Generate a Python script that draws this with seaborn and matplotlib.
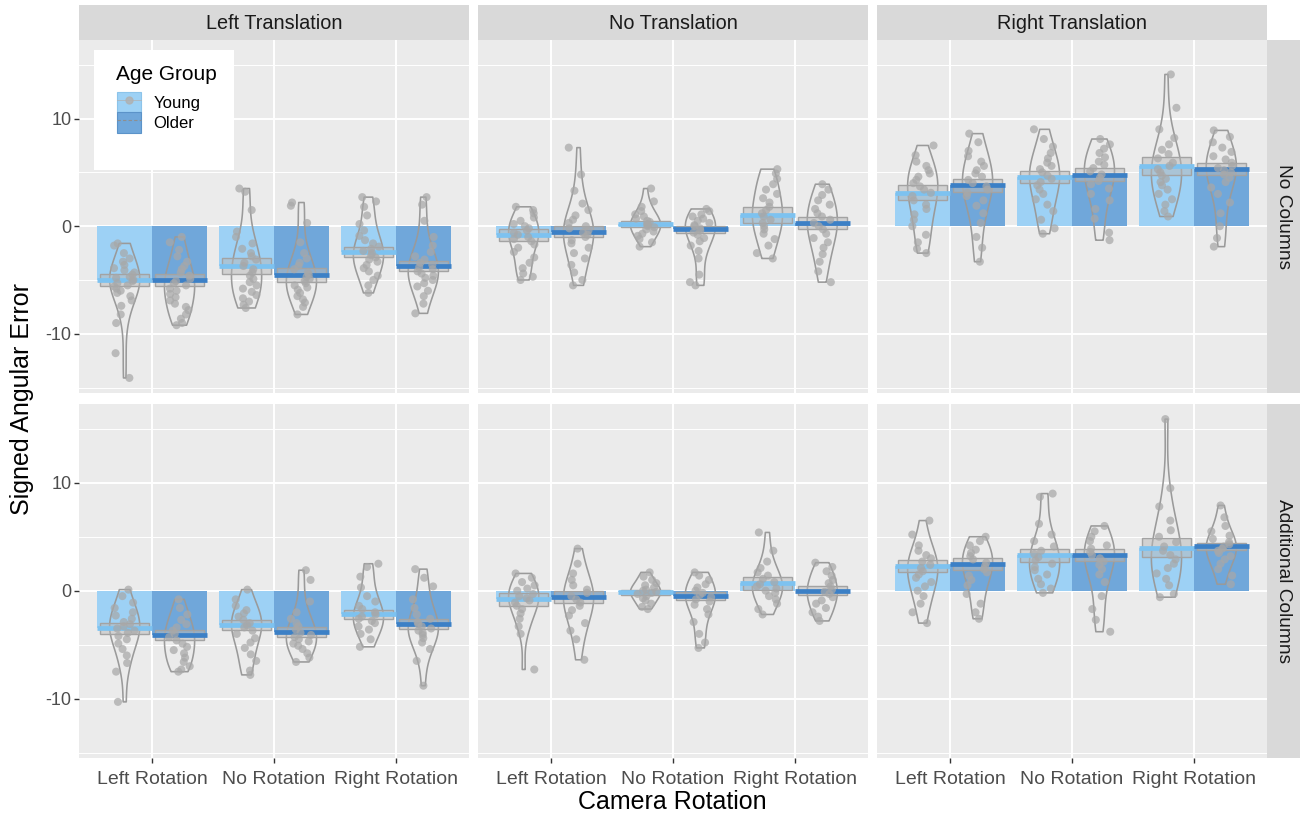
import numpy as np
import pandas as pd
import matplotlib
matplotlib.use("Agg")
import matplotlib.pyplot as plt
import seaborn as sns
from matplotlib.patches import Patch, Rectangle
from matplotlib.lines import Line2D
from matplotlib.legend_handler import HandlerTuple

plt.rcParams["font.family"] = ["Liberation Sans", "DejaVu Sans"]

rotations = ["Left Rotation", "No Rotation", "Right Rotation"]
translations = ["Left Translation", "No Translation", "Right Translation"]
conditions = ["No Columns", "Additional Columns"]
ages = ["Young", "Older"]

# Per-participant signed angular error; each list holds [left rot, no rot, right rot]
nocol_left_young = [
    [-1.6, -1.8, -2.5, -3.0, -3.3, -3.6, -3.9, -4.1, -4.3, -4.5, -4.7, -4.8, -5.0, -5.1,
     -5.3, -5.5, -5.6, -5.8, -6.0, -6.2, -6.5, -6.9, -7.4, -8.2, -9.0, -11.8, -14.1],
    [3.5, 3.2, 1.5, -0.5, -1.0, -1.6, -2.1, -2.5, -2.8, -3.1, -3.4, -3.7, -4.0, -4.3,
     -4.6, -4.9, -5.2, -5.5, -5.8, -6.1, -6.4, -6.7, -7.0, -7.3, -7.6],
    [2.7, 2.3, 1.8, 1.0, 0.2, -0.4, -0.9, -1.3, -1.6, -1.9, -2.1, -2.3, -2.5, -2.7,
     -2.9, -3.1, -3.3, -3.6, -3.9, -4.2, -4.6, -5.0, -5.5, -6.2],
]
nocol_left_older = [
    [-1.0, -1.5, -2.2, -2.8, -3.3, -3.7, -4.0, -4.3, -4.6, -4.9, -5.1, -5.3, -5.5, -5.8,
     -6.0, -6.3, -6.6, -6.9, -7.2, -7.5, -7.8, -8.2, -8.6, -9.0, -9.2],
    [2.2, 1.9, 0.3, -1.5, -2.5, -3.0, -3.4, -3.7, -4.0, -4.3, -4.5, -4.7, -4.9, -5.1,
     -5.3, -5.5, -5.7, -5.9, -6.2, -6.5, -6.8, -7.1, -7.5, -8.2],
    [2.7, 2.0, 0.5, -1.0, -1.8, -2.4, -2.8, -3.1, -3.4, -3.6, -3.8, -4.0, -4.2, -4.4,
     -4.6, -4.8, -5.0, -5.3, -5.6, -6.0, -6.5, -7.2, -8.1],
]
nocol_none_young = [
    [1.8, 1.5, 1.2, 0.8, 0.5, 0.2, 0.0, -0.2, -0.4, -0.6, -0.8, -1.0, -1.2, -1.4, -1.7,
     -2.0, -2.4, -2.9, -3.4, -3.9, -4.4, -4.7, -5.0],
    [3.5, 2.3, 1.8, 1.4, 1.1, 0.9, 0.7, 0.5, 0.4, 0.2, 0.1, 0.0, -0.1, -0.3, -0.5, -0.7,
     -0.9, -1.2, -1.5, -1.9],
    [5.3, 4.9, 4.4, 3.9, 3.4, 3.0, 2.6, 2.2, 1.8, 1.5, 1.2, 0.9, 0.6, 0.3, 0.0, -0.3,
     -0.7, -1.2, -1.8, -2.5, -3.0],
]
nocol_none_older = [
    [7.3, 4.8, 3.3, 2.1, 1.5, 1.0, 0.6, 0.3, 0.0, -0.2, -0.4, -0.6, -0.8, -1.0, -1.3,
     -1.6, -2.0, -2.5, -3.0, -3.6, -4.3, -5.0, -5.5],
    [1.6, 1.4, 1.1, 0.9, 0.7, 0.5, 0.3, 0.1, 0.0, -0.2, -0.4, -0.6, -0.8, -1.1, -1.4,
     -1.8, -2.3, -3.0, -4.5, -5.2, -5.5],
    [3.9, 3.4, 2.9, 2.4, 2.0, 1.6, 1.2, 0.9, 0.6, 0.3, 0.0, -0.3, -0.7, -1.1, -1.5, -2.0,
     -2.6, -3.3, -4.2, -5.2],
]
nocol_right_young = [
    [7.5, 6.6, 6.0, 5.6, 5.2, 4.9, 4.6, 4.3, 4.0, 3.7, 3.4, 3.1, 2.8, 2.4, 2.0, 1.6,
     1.1, 0.6, 0.0, -0.8, -1.5, -2.1, -2.5],
    [9.0, 8.1, 7.4, 6.8, 6.3, 5.9, 5.6, 5.3, 5.0, 4.7, 4.4, 4.1, 3.8, 3.4, 3.0, 2.5,
     2.0, 1.4, 0.6, -0.2, -0.7],
    [14.1, 11.0, 9.0, 8.2, 7.6, 7.1, 6.7, 6.3, 5.9, 5.6, 5.3, 5.0, 4.7, 4.4, 4.1, 3.8,
     3.4, 3.0, 2.5, 2.0, 1.4, 0.9],
]
nocol_right_older = [
    [8.6, 7.8, 7.0, 6.5, 6.0, 5.6, 5.2, 4.9, 4.6, 4.3, 4.0, 3.7, 3.4, 3.1, 2.8, 2.4,
     1.9, 1.2, 0.3, -1.0, -2.0, -3.3],
    [8.1, 7.6, 7.2, 6.8, 6.4, 6.0, 5.7, 5.4, 5.1, 4.8, 4.5, 4.2, 3.9, 3.5, 3.0, 2.4,
     1.6, 0.7, -0.6, -1.3],
    [8.9, 8.3, 7.8, 7.3, 6.9, 6.5, 6.2, 5.9, 5.6, 5.4, 5.2, 5.0, 4.8, 4.5, 4.1, 3.6,
     3.0, 2.2, 1.2, 0.0, -1.1, -1.9],
]
addcol_left_young = [
    [0.1, -0.5, -1.1, -1.6, -2.0, -2.3, -2.6, -2.9, -3.1, -3.3, -3.5, -3.7, -3.9, -4.2,
     -4.5, -4.9, -5.4, -6.0, -6.7, -7.5, -10.3],
    [0.1, -0.8, -1.4, -1.8, -2.1, -2.4, -2.7, -3.0, -3.2, -3.4, -3.7, -4.0, -4.4, -4.8,
     -5.3, -5.9, -6.5, -7.4, -7.8],
    [2.5, 2.2, 1.3, 0.3, -0.5, -1.0, -1.4, -1.7, -2.0, -2.2, -2.4, -2.6, -2.8, -3.0,
     -3.3, -3.6, -4.0, -4.5, -5.2],
]
addcol_left_older = [
    [-0.8, -1.6, -2.2, -2.7, -3.1, -3.4, -3.7, -4.0, -4.3, -4.6, -4.9, -5.2, -5.5, -5.8,
     -6.2, -6.6, -7.0, -7.3, -7.5],
    [1.9, 1.0, -1.0, -2.0, -2.6, -3.0, -3.3, -3.6, -3.9, -4.1, -4.3, -4.5, -4.7, -4.9,
     -5.1, -5.4, -5.8, -6.2, -6.6],
    [2.0, 1.2, 0.4, -0.8, -1.6, -2.2, -2.6, -2.9, -3.1, -3.3, -3.5, -3.7, -3.9, -4.1,
     -4.4, -4.8, -5.4, -6.5, -8.8],
]
addcol_none_young = [
    [1.6, 1.2, 0.8, 0.5, 0.2, 0.0, -0.3, -0.5, -0.7, -0.9, -1.1, -1.4, -1.7, -2.1, -2.6,
     -3.3, -4.0, -7.3],
    [1.7, 1.3, 1.0, 0.7, 0.5, 0.3, 0.1, 0.0, -0.1, -0.2, -0.3, -0.5, -0.7, -0.9, -1.2,
     -1.5, -1.7],
    [5.4, 3.7, 2.7, 2.1, 1.7, 1.4, 1.1, 0.8, 0.6, 0.4, 0.2, 0.0, -0.2, -0.5, -0.8, -1.2,
     -1.7, -2.2],
]
addcol_none_older = [
    [3.9, 2.5, 1.6, 1.0, 0.5, 0.1, -0.2, -0.5, -0.8, -1.1, -1.4, -1.8, -2.3, -3.0, -3.7,
     -4.5, -6.4],
    [1.7, 1.4, 1.0, 0.6, 0.3, 0.0, -0.2, -0.4, -0.6, -0.8, -1.0, -1.3, -1.7, -2.2, -2.9,
     -4.0, -4.8, -5.3],
    [2.6, 2.2, 1.8, 1.4, 1.0, 0.7, 0.4, 0.1, -0.1, -0.3, -0.6, -0.9, -1.2, -1.6, -2.0,
     -2.4, -2.8],
]
addcol_right_young = [
    [6.5, 5.2, 4.2, 3.7, 3.3, 3.0, 2.7, 2.4, 2.1, 1.8, 1.5, 1.2, 0.8, 0.4, 0.0, -0.5,
     -1.2, -2.0, -3.0],
    [9.0, 8.7, 6.2, 5.2, 4.6, 4.1, 3.7, 3.4, 3.1, 2.8, 2.5, 2.2, 1.9, 1.5, 1.1, 0.6,
     0.2, -0.2],
    [15.9, 9.5, 7.8, 6.5, 5.6, 5.0, 4.5, 4.1, 3.7, 3.3, 2.9, 2.5, 2.1, 1.6, 1.1, 0.5,
     -0.3, -0.6],
]
addcol_right_older = [
    [5.0, 4.6, 4.2, 3.8, 3.5, 3.2, 2.9, 2.6, 2.3, 2.0, 1.7, 1.4, 1.0, 0.5, -0.3, -1.2,
     -2.0, -2.6],
    [6.0, 5.5, 5.0, 4.6, 4.2, 3.9, 3.6, 3.3, 3.0, 2.7, 2.4, 2.0, 1.5, 0.8, -0.5, -1.7,
     -2.7, -3.8],
    [7.9, 6.8, 6.0, 5.5, 5.1, 4.8, 4.5, 4.3, 4.1, 3.9, 3.7, 3.5, 3.2, 2.9, 2.5, 2.0,
     1.4, 0.6],
]

# Group means, [translation][rotation]
mean_nocol_young = [[-5.0, -3.7, -2.4], [-0.8, 0.2, 1.0], [3.1, 4.6, 5.6]]
mean_nocol_older = [[-5.0, -4.5, -3.7], [-0.5, -0.3, 0.3], [3.8, 4.8, 5.3]]
mean_addcol_young = [[-3.5, -3.2, -2.2], [-0.8, -0.15, 0.7], [2.3, 3.3, 4.0]]
mean_addcol_older = [[-4.1, -3.8, -3.1], [-0.6, -0.5, 0.0], [2.5, 3.3, 4.1]]

# Confidence-interval half widths around each mean, [translation][rotation]
ci_nocol_young = [[0.6, 0.7, 0.5], [0.55, 0.3, 0.75], [0.7, 0.55, 0.8]]
ci_nocol_older = [[0.55, 0.65, 0.45], [0.5, 0.35, 0.6], [0.6, 0.6, 0.55]]
ci_addcol_young = [[0.55, 0.45, 0.45], [0.6, 0.25, 0.6], [0.55, 0.6, 0.85]]
ci_addcol_older = [[0.5, 0.45, 0.45], [0.55, 0.4, 0.4], [0.55, 0.55, 0.35]]

raw = {
    ("No Columns", "Young"): [nocol_left_young, nocol_none_young, nocol_right_young],
    ("No Columns", "Older"): [nocol_left_older, nocol_none_older, nocol_right_older],
    ("Additional Columns", "Young"): [addcol_left_young, addcol_none_young, addcol_right_young],
    ("Additional Columns", "Older"): [addcol_left_older, addcol_none_older, addcol_right_older],
}
means = {
    ("No Columns", "Young"): mean_nocol_young, ("No Columns", "Older"): mean_nocol_older,
    ("Additional Columns", "Young"): mean_addcol_young,
    ("Additional Columns", "Older"): mean_addcol_older,
}
cis = {
    ("No Columns", "Young"): ci_nocol_young, ("No Columns", "Older"): ci_nocol_older,
    ("Additional Columns", "Young"): ci_addcol_young,
    ("Additional Columns", "Older"): ci_addcol_older,
}

# Styling
bar_colors = {"Young": "#9DD1F5", "Older": "#70A7DA"}
mean_colors = {"Young": "#7DC2F0", "Older": "#3C80C6"}
grey_pal = {"Young": "#9A9A9A", "Older": "#9A9A9A"}
point_pal = {"Young": "#A8A8A8", "Older": "#A8A8A8"}
offset = {"Young": -0.225, "Older": 0.225}
panel_bg = "#EBEBEB"
strip_bg = "#D9D9D9"

W, H = 1302, 816
fig = plt.figure(figsize=(W / 100, H / 100), dpi=100)
fig.patch.set_facecolor("white")
np.random.seed(11)

col_x = [79, 478, 877]
panel_w = 390
row_y = [(40, 393), (404, 758)]

for r, cond in enumerate(conditions):
    for c, trans in enumerate(translations):
        y0, y1 = row_y[r]
        ax = fig.add_axes([col_x[c] / W, 1 - y1 / H, panel_w / W, (y1 - y0) / H])
        ax.set_facecolor(panel_bg)

        pts_rows, bar_rows = [], []
        for age in ages:
            for k in range(3):
                pos = k + offset[age]
                for v in raw[(cond, age)][c][k]:
                    pts_rows.append({"xpos": pos, "value": v, "age": age})
                bar_rows.append({"xpos": pos, "mean": means[(cond, age)][c][k],
                                 "ci": cis[(cond, age)][c][k], "age": age})
        pts = pd.DataFrame(pts_rows)
        bars = pd.DataFrame(bar_rows)

        sns.barplot(data=bars, x="xpos", y="mean", hue="age", hue_order=ages,
                    palette=bar_colors, native_scale=True, dodge=False, width=1.0,
                    errorbar=None, saturation=1, linewidth=0, legend=False, ax=ax)

        sns.violinplot(data=pts, x="xpos", y="value", hue="age", hue_order=ages,
                       palette=grey_pal, native_scale=True, dodge=False, width=0.55,
                       fill=False, inner=None, cut=0, density_norm="width",
                       bw_method="silverman", linewidth=1.15, legend=False, ax=ax)

        # confidence box and mean bar for each group
        ax.bar(bars["xpos"], 2 * bars["ci"], bottom=bars["mean"] - bars["ci"], width=0.4,
               color=(0.72, 0.72, 0.72, 0.5), edgecolor="#A3A3A3", linewidth=1.0, zorder=3)
        for age in ages:
            sub = bars[bars["age"] == age]
            ax.hlines(sub["mean"], sub["xpos"] - 0.225, sub["xpos"] + 0.225,
                      colors=mean_colors[age], linewidth=3.4, zorder=4)

        sns.stripplot(data=pts, x="xpos", y="value", hue="age", hue_order=ages,
                      palette=point_pal, native_scale=True, dodge=False, jitter=0.2,
                      size=5.8, alpha=0.72, linewidth=0, legend=False, zorder=5, ax=ax)

        ax.set_xlim(-0.6, 2.6)
        ax.set_ylim(-15.5, 17.3)
        ax.set_xticks([0, 1, 2])
        ax.set_yticks([-10, 0, 10])
        ax.set_yticks([-15, -5, 5, 15], minor=True)
        ax.set_xticks([], minor=True)
        ax.grid(which="major", color="white", linewidth=1.4)
        ax.grid(which="minor", axis="y", color="white", linewidth=0.7)
        ax.set_axisbelow(True)
        for s in ax.spines.values():
            s.set_visible(False)
        ax.set_xlabel("")
        ax.set_ylabel("")
        ax.tick_params(which="both", length=0)
        ax.tick_params(which="major", length=3.5, width=1.0, color="#333333",
                       labelcolor="#4D4D4D")
        if r == 1:
            ax.set_xticklabels(rotations, fontsize=14)
            ax.tick_params(axis="x", pad=6)
        else:
            ax.tick_params(axis="x", length=0, labelbottom=False)
        if c == 0:
            ax.set_yticklabels(["-10", "0", "10"], fontsize=13)
            ax.tick_params(axis="y", pad=2)
        else:
            ax.tick_params(axis="y", length=0, labelleft=False)

# facet strips
for c, trans in enumerate(translations):
    sax = fig.add_axes([col_x[c] / W, 1 - 40 / H, panel_w / W, 35 / H])
    sax.set_facecolor(strip_bg)
    sax.set_xticks([]); sax.set_yticks([])
    for s in sax.spines.values():
        s.set_visible(False)
    sax.text(0.5, 0.48, trans, ha="center", va="center", fontsize=14.3, color="#1A1A1A",
             transform=sax.transAxes)
for r, cond in enumerate(conditions):
    y0, y1 = row_y[r]
    sax = fig.add_axes([1267 / W, 1 - y1 / H, 33 / W, (y1 - y0) / H])
    sax.set_facecolor(strip_bg)
    sax.set_xticks([]); sax.set_yticks([])
    for s in sax.spines.values():
        s.set_visible(False)
    sax.text(0.5, 0.5, cond, ha="center", va="center", rotation=-90, fontsize=13.8,
             color="#1A1A1A", transform=sax.transAxes)

fig.text(22 / W, 1 - 399 / H, "Signed Angular Error", rotation=90, ha="center",
         va="center", fontsize=18, color="black")
fig.text(672 / W, 1 - 802 / H, "Camera Rotation", ha="center", va="center",
         fontsize=18, color="black")

# legend panel: white box, title and keys
fig.patches.append(Rectangle((94 / W, 1 - 170 / H), 140 / W, 120 / H,
                             transform=fig.transFigure, facecolor="white",
                             edgecolor="none", zorder=2))
title = fig.text(116 / W, 1 - 74 / H, "Age Group", ha="left", va="center", fontsize=15,
                 color="black")
title.set_zorder(3)
handles = [
    (Patch(facecolor=bar_colors["Young"], edgecolor="#8CC4EA", linewidth=0.8),
     Line2D([], [], color="#B0B0B0", marker="o", markersize=5, alpha=0.8, linewidth=0.6)),
    (Patch(facecolor=bar_colors["Older"], edgecolor="#5B93C9", linewidth=0.8),
     Line2D([], [], color="#8E8E8E", linestyle=(0, (3, 2)), linewidth=0.8)),
]
leg = fig.legend(handles=handles, labels=ages,
                 handler_map={tuple: HandlerTuple(ndivide=1, pad=0)},
                 loc="upper left", bbox_to_anchor=(117 / W, 1 - 92 / H),
                 borderaxespad=0.0, frameon=False, fontsize=12, handlelength=1.45,
                 handleheight=1.5, borderpad=0.0, labelspacing=0.0, handletextpad=0.75)
leg.set_zorder(3)

fig.savefig("out.png", dpi=100)
